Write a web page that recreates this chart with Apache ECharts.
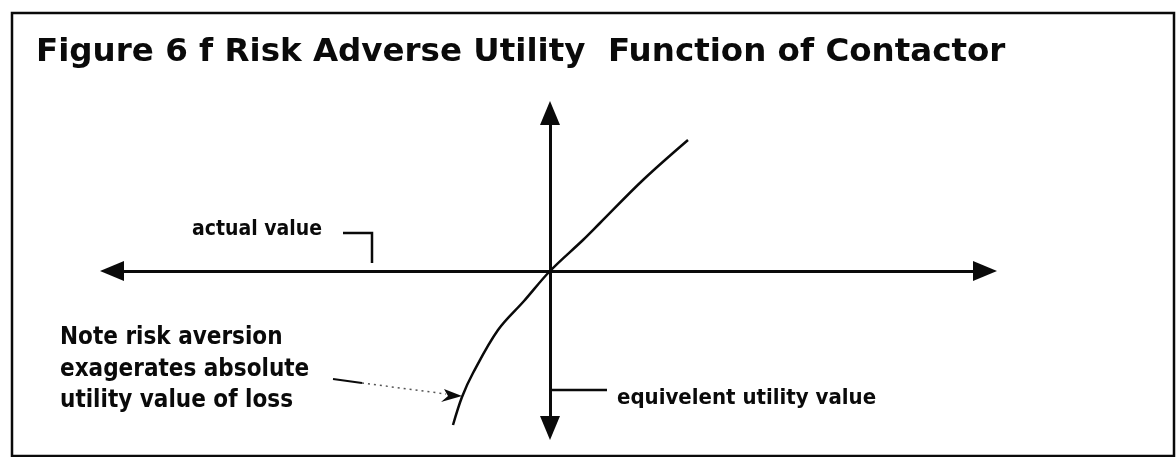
<!DOCTYPE html>
<html>
<head>
<meta charset="utf-8">
<script src="https://cdn.jsdelivr.net/npm/echarts@6/dist/echarts.min.js"></script>
<style>
html,body{margin:0;padding:0;background:#fff;}
#chart{width:1176px;height:457px;}
</style>
</head>
<body>
<div id="chart"></div>
<script>
// Schematic curve: actual value (x) vs equivalent utility value (y)
const actualValue  = [-9.7, -8.8, -7.7, -5.2, -2.6, 0, 3.3, 5.0, 9.3, 13.8];
const utilityValue = [-15.4, -12.6, -10.2, -5.9, -3.0, 0, 3.1, 4.8, 9.1, 13.1];
const xRange = [-43.8, 43.5];
const yRange = [-15.7, 15.8];
const titleText = 'Figure 6 f Risk Adverse Utility  Function of Contactor';
const xAxisLabel = 'actual value';
const yAxisLabel = 'equivelent utility value';
const noteLines = ['Note risk aversion', 'exagerates absolute', 'utility value of loss'];

const chart = echarts.init(document.getElementById('chart'), null, {renderer: 'canvas'});
const ink = '#0a0a0a';
const annFont = '"DejaVu Sans Condensed", "DejaVu Sans", sans-serif';

const axisCommon = {
  type: 'value',
  axisLine: {
    show: true, onZero: true,
    symbol: ['triangle', 'triangle'],
    symbolSize: [20, 24],
    lineStyle: {color: ink, width: 3}
  },
  axisTick: {show: false},
  axisLabel: {show: false},
  splitLine: {show: false}
};

const graphics = [
  {type: 'rect', shape: {x: 12, y: 13, width: 1162, height: 443},
   style: {fill: 'none', stroke: ink, lineWidth: 2.5}, silent: true},
  {type: 'text', x: 322, y: 230,
   style: {text: xAxisLabel, font: 'bold 21px ' + annFont, fill: ink, align: 'right', verticalAlign: 'middle'}},
  {type: 'polyline', shape: {points: [[343, 233], [372, 233], [372, 263]]},
   style: {stroke: ink, lineWidth: 2.5, fill: 'none'}},
  {type: 'line', shape: {x1: 550, y1: 390, x2: 607, y2: 390},
   style: {stroke: ink, lineWidth: 2.5}},
  {type: 'text', x: 617, y: 398,
   style: {text: yAxisLabel, font: 'bold 22px ' + annFont, fill: ink, align: 'left', verticalAlign: 'middle'}},
  {type: 'line', shape: {x1: 333, y1: 379, x2: 362, y2: 383},
   style: {stroke: ink, lineWidth: 2}},
  {type: 'line', shape: {x1: 362, y1: 383, x2: 446, y2: 394},
   style: {stroke: '#555', lineWidth: 1.5, lineDash: [2, 4]}},
  {type: 'polygon', shape: {points: [[462, 396], [444, 389], [448, 396], [441, 402]]},
   style: {fill: ink}}
];
noteLines.forEach(function (t, i) {
  graphics.push({type: 'text', x: 60, y: 338 + i * 31.5,
    style: {text: t, font: 'bold 24px ' + annFont, fill: ink, align: 'left', verticalAlign: 'middle'}});
});

chart.setOption({
  animation: false,
  backgroundColor: '#fff',
  title: {
    text: titleText, left: 31, top: 31,
    textStyle: {color: ink, fontSize: 32.5, fontWeight: 'bold', fontFamily: '"DejaVu Sans", sans-serif'}
  },
  grid: {left: 112, right: 191, top: 113, bottom: 29},
  xAxis: Object.assign({}, axisCommon, {min: xRange[0], max: xRange[1]}),
  yAxis: Object.assign({}, axisCommon, {min: yRange[0], max: yRange[1]}),
  series: [{
    type: 'line',
    data: actualValue.map(function (x, i) { return [x, utilityValue[i]]; }),
    smooth: 0.35,
    showSymbol: false,
    lineStyle: {color: ink, width: 2.5}
  }],
  graphic: graphics
});
</script>
</body>
</html>
